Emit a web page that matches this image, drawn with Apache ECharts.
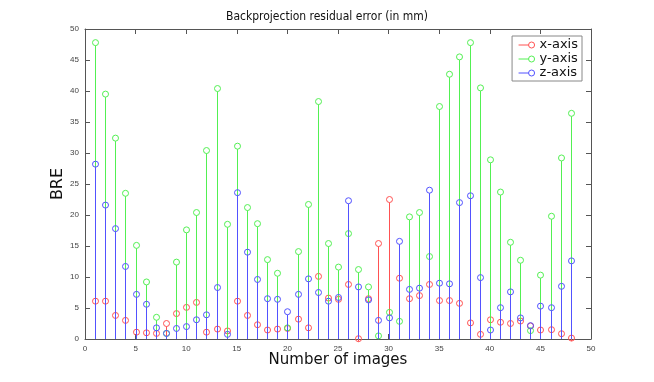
<!DOCTYPE html>
<html lang="en">
<head>
    <meta charset="UTF-8">
    <title>Backprojection residual error</title>
    <style>
        html, body { margin: 0; padding: 0; background: #fff; }
        #main { width: 654px; height: 382px; }
    </style>
</head>
<body>
<div id="main"></div>

<script src="https://cdn.jsdelivr.net/npm/echarts@6.0.0/dist/echarts.min.js"></script>
<script>
    // image numbers 1..48
    var images = [];
    for (var i = 1; i <= 48; i++) images.push(i);

    // residual error per image (mm)
    var xErr = [6.1, 6.1, 3.8, 3.0, 1.1, 1.0, 0.9, 2.5, 4.1, 5.1, 5.9, 1.1, 1.6, 1.3, 6.1, 3.8,
                2.3, 1.45, 1.6, 1.7, 3.2, 1.8, 10.1, 6.6, 6.4, 8.8, 0.05, 6.5, 15.4, 22.5, 9.8, 6.5,
                7.0, 8.8, 6.2, 6.2, 5.75, 2.6, 0.75, 3.1, 2.7, 2.5, 2.9, 2.1, 1.45, 1.5, 0.85, 0.15];
    var yErr = [47.8, 39.5, 32.4, 23.5, 15.1, 9.2, 3.5, 0.9, 12.4, 17.6, 20.4, 30.4, 40.4, 18.5, 31.1, 21.2,
                18.6, 12.8, 10.6, 1.8, 14.1, 21.7, 38.3, 15.4, 11.6, 17.0, 11.2, 8.4, 0.5, 4.3, 2.85, 19.7,
                20.4, 13.3, 37.5, 42.7, 45.5, 47.8, 40.5, 28.9, 23.7, 15.6, 12.7, 1.35, 10.3, 19.8, 29.2, 36.4];
    var zErr = [28.2, 21.6, 17.8, 11.7, 7.2, 5.6, 1.8, 0.9, 1.7, 2.0, 3.1, 3.9, 8.3, 0.75, 23.6, 14.0,
                9.6, 6.5, 6.4, 4.4, 7.2, 9.7, 7.5, 6.1, 6.7, 22.3, 8.4, 6.3, 3.0, 3.4, 15.75, 8.0,
                8.2, 24.0, 9.0, 8.9, 22.0, 23.1, 9.9, 1.45, 5.05, 7.6, 3.4, 2.15, 5.3, 5.05, 8.5, 12.6];

    var seriesNames = ['x-axis', 'y-axis', 'z-axis'];
    var seriesColors = ['#ff5252', '#52f052', '#5252ff'];
    var xTicks = [0, 5, 10, 15, 20, 25, 30, 35, 40, 45, 50];
    var yTicks = [0, 5, 10, 15, 20, 25, 30, 35, 40, 45, 50];

    function pairs(vals) {
        return images.map(function (n, k) { return [n, vals[k]]; });
    }

    // stem: line from baseline up to a hollow circle
    function stem(color) {
        return function (params, api) {
            var x = api.value(0), y = api.value(1);
            var p0 = api.coord([x, 0]);
            var p1 = api.coord([x, y]);
            var px = Math.round(p0[0]) + 0.5;
            var r = 3;
            return {
                type: 'group',
                children: [
                    {
                        type: 'line',
                        shape: { x1: px, y1: p0[1], x2: px, y2: p1[1] + r },
                        style: { stroke: color, lineWidth: 1 }
                    },
                    {
                        type: 'circle',
                        shape: { cx: px, cy: p1[1], r: r },
                        style: { fill: 'none', stroke: color, lineWidth: 1 }
                    }
                ]
            };
        };
    }

    var legendIcon = 'path://M0,4 L10,4 M10,4 A3,3 0 1 1 16,4 A3,3 0 1 1 10,4';

    var axisCol = '#555';
    var labelFont = { fontFamily: 'Liberation Sans', fontSize: 8, color: '#444' };

    function xAx(pos, showLabel) {
        return {
            type: 'value', position: pos, min: 0, max: 50, interval: 5,
            axisLine: { show: true, onZero: false, lineStyle: { color: axisCol, width: 1 } },
            axisTick: { show: true, inside: true, length: 5, lineStyle: { color: axisCol } },
            axisLabel: Object.assign({ show: showLabel, margin: 6,
                formatter: function (v) { return xTicks.indexOf(v) >= 0 ? String(v) : ''; } }, labelFont),
            splitLine: { show: false }
        };
    }
    function yAx(pos, showLabel) {
        return {
            type: 'value', position: pos, min: 0, max: 50, interval: 5,
            axisLine: { show: true, onZero: false, lineStyle: { color: axisCol, width: 1 } },
            axisTick: { show: true, inside: true, length: 5, lineStyle: { color: axisCol } },
            axisLabel: Object.assign({ show: showLabel, margin: 6,
                formatter: function (v) { return yTicks.indexOf(v) >= 0 ? String(v) : ''; } }, labelFont),
            splitLine: { show: false }
        };
    }

    var xBottom = xAx('bottom', true);
    xBottom.name = 'Number of images';
    xBottom.nameLocation = 'middle';
    xBottom.nameGap = 14;
    xBottom.nameMoveOverlap = false;
    xBottom.nameTextStyle = { fontFamily: 'DejaVu Sans', fontSize: 15, color: '#111' };

    var yLeft = yAx('left', true);
    yLeft.name = 'BRE';
    yLeft.nameLocation = 'middle';
    yLeft.nameGap = 19;
    yLeft.nameMoveOverlap = false;
    yLeft.nameTextStyle = { fontFamily: 'DejaVu Sans', fontSize: 16, color: '#111' };

    var allData = [xErr, yErr, zErr];

    var myChart = echarts.init(document.getElementById('main'), null, { renderer: 'canvas' });
    var option = {
        backgroundColor: '#fff',
        animation: false,
        title: {
            text: 'Backprojection residual error (in mm)',
            left: 'center',
            top: 6,
            textStyle: { fontFamily: 'DejaVu Sans Condensed', fontSize: 12, fontWeight: 'normal', color: '#111' }
        },
        grid: { left: 85, right: 63, top: 29, bottom: 43, show: false },
        legend: {
            right: 72, top: 36,
            orient: 'vertical',
            backgroundColor: '#fff',
            borderColor: '#888',
            borderWidth: 1,
            borderRadius: 0,
            padding: [2, 4, 1, 4],
            itemGap: 0,
            itemWidth: 16,
            itemHeight: 6,
            textStyle: { fontFamily: 'DejaVu Sans', fontSize: 13, color: '#111', lineHeight: 14 },
            data: seriesNames.map(function (n, k) {
                return { name: n, icon: legendIcon,
                    itemStyle: { color: 'none', borderColor: seriesColors[k], borderWidth: 1 } };
            })
        },
        xAxis: [xBottom, xAx('top', false)],
        yAxis: [yLeft, yAx('right', false)],
        series: seriesNames.map(function (n, k) {
            return {
                name: n,
                type: 'custom',
                xAxisIndex: 0, yAxisIndex: 0,
                itemStyle: { color: seriesColors[k] },
                renderItem: stem(seriesColors[k]),
                encode: { x: 0, y: 1 },
                data: pairs(allData[k])
            };
        })
    };

    myChart.setOption(option);
</script>
</body>
</html>
